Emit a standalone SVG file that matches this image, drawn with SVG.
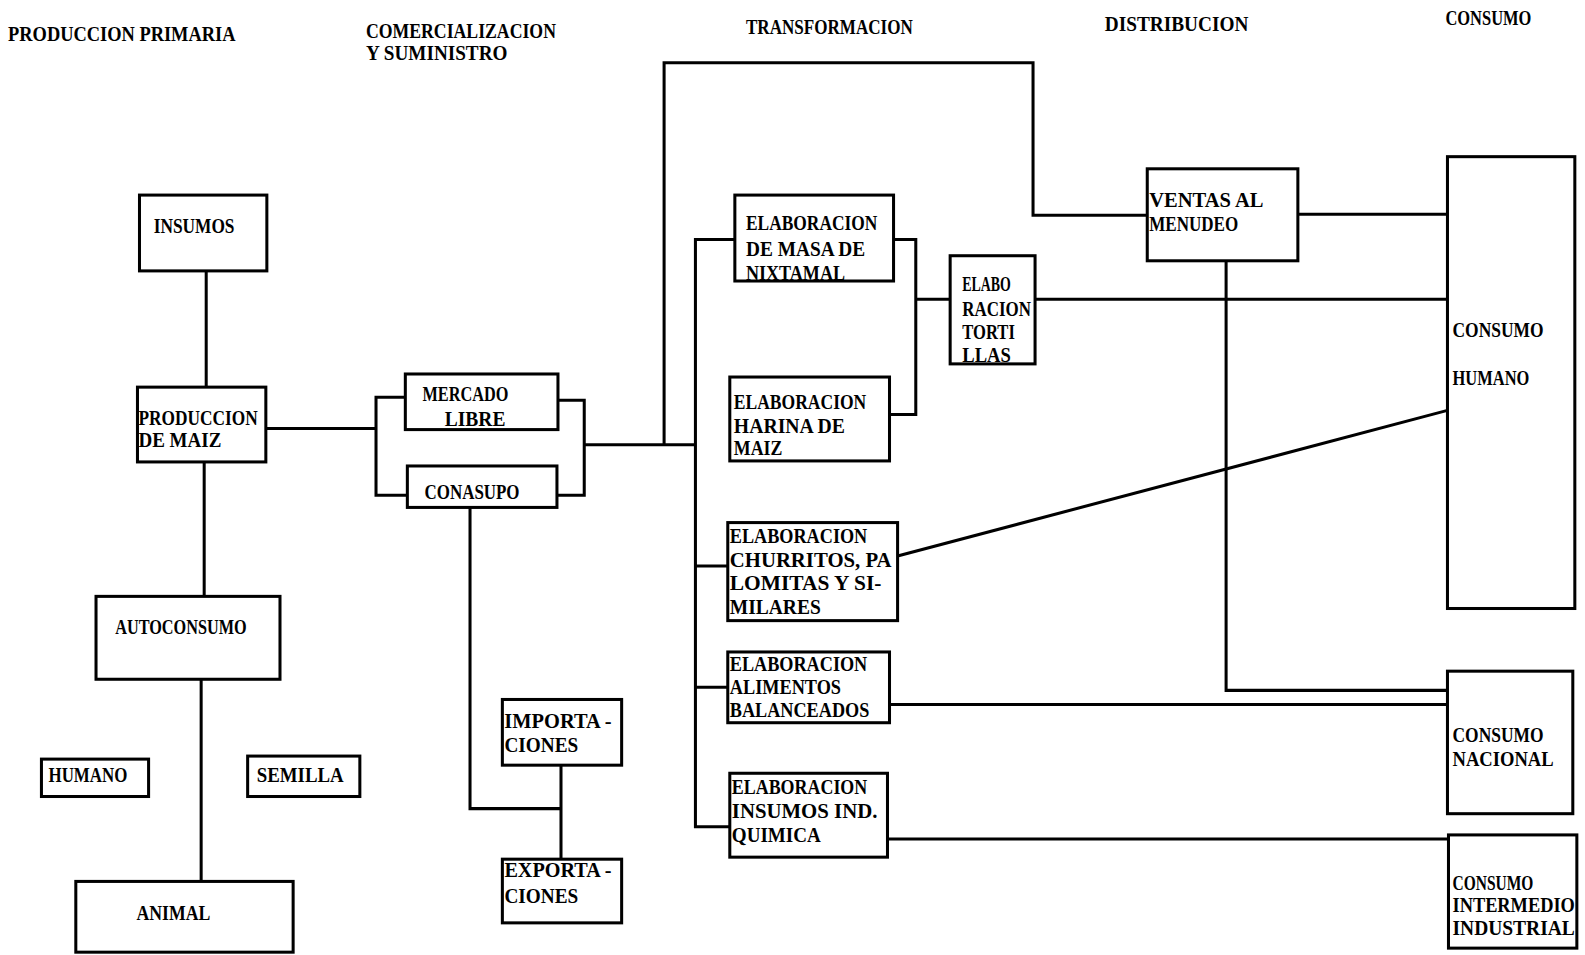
<svg xmlns="http://www.w3.org/2000/svg" width="1585" height="955" viewBox="0 0 1585 955">
<style>
.box{fill:#fff;stroke:#000;stroke-width:3}
.ln{fill:none;stroke:#000;stroke-width:3}
text{font-family:"Liberation Serif","DejaVu Serif",serif;font-weight:bold;font-size:20px;fill:#000}
</style>
<rect width="1585" height="955" fill="#fff"/>
<g id="diagram" transform="scale(1.0108)">
<g id="headers">
<text x="8" y="41" textLength="225" lengthAdjust="spacingAndGlyphs">PRODUCCION PRIMARIA</text>
<text x="362" y="38" textLength="188" lengthAdjust="spacingAndGlyphs">COMERCIALIZACION</text>
<text x="362" y="59" textLength="140" lengthAdjust="spacingAndGlyphs">Y SUMINISTRO</text>
<text x="738" y="34" textLength="165" lengthAdjust="spacingAndGlyphs">TRANSFORMACION</text>
<text x="1093" y="31" textLength="142" lengthAdjust="spacingAndGlyphs">DISTRIBUCION</text>
<text x="1430" y="25" textLength="85" lengthAdjust="spacingAndGlyphs">CONSUMO</text>
</g>
<g id="connectors">
<path class="ln" d="M204 268V383"/>
<path class="ln" d="M202 457V590"/>
<path class="ln" d="M199 672V872"/>
<path class="ln" d="M263 424H372"/>
<path class="ln" d="M401 393H372V490H403"/>
<path class="ln" d="M552 396H578V490H551"/>
<path class="ln" d="M578 440H688"/>
<path class="ln" d="M657 440V62H1022V213H1135"/>
<path class="ln" d="M727 237H688V818H722"/>
<path class="ln" d="M688 560H720"/>
<path class="ln" d="M688 680H720"/>
<path class="ln" d="M884 237H906V410H880"/>
<path class="ln" d="M906 296H940"/>
<path class="ln" d="M1024 296H1432"/>
<path class="ln" d="M1284 212H1432"/>
<path class="ln" d="M1213 258V683H1432"/>
<path class="ln" d="M888 550L1432 406"/>
<path class="ln" d="M880 697H1432"/>
<path class="ln" d="M878 830H1433"/>
<path class="ln" d="M465 502V800H555"/>
<path class="ln" d="M555 757V850"/>
</g>
<g id="insumos"><rect class="box" x="138" y="193" width="126" height="75"/><text x="152" y="231" textLength="80" lengthAdjust="spacingAndGlyphs">INSUMOS</text></g>
<g id="produccion"><rect class="box" x="136" y="383" width="127" height="74"/><text x="137" y="420" textLength="118" lengthAdjust="spacingAndGlyphs">PRODUCCION</text><text x="137" y="442" textLength="82" lengthAdjust="spacingAndGlyphs">DE MAIZ</text></g>
<g id="autoconsumo"><rect class="box" x="95" y="590" width="182" height="82"/><text x="114" y="627" textLength="130" lengthAdjust="spacingAndGlyphs">AUTOCONSUMO</text></g>
<g id="humano"><rect class="box" x="41" y="751" width="106" height="37"/><text x="48" y="774" textLength="78" lengthAdjust="spacingAndGlyphs">HUMANO</text></g>
<g id="semilla"><rect class="box" x="245" y="748" width="111" height="40"/><text x="254" y="774" textLength="86" lengthAdjust="spacingAndGlyphs">SEMILLA</text></g>
<g id="animal"><rect class="box" x="75" y="872" width="215" height="70"/><text x="135" y="910" textLength="73" lengthAdjust="spacingAndGlyphs">ANIMAL</text></g>
<g id="mercado"><rect class="box" x="401" y="370" width="151" height="55"/><text x="418" y="397" textLength="85" lengthAdjust="spacingAndGlyphs">MERCADO</text><text x="440" y="421" textLength="60" lengthAdjust="spacingAndGlyphs">LIBRE</text></g>
<g id="conasupo"><rect class="box" x="403" y="461" width="148" height="41"/><text x="420" y="494" textLength="94" lengthAdjust="spacingAndGlyphs">CONASUPO</text></g>
<g id="importaciones"><rect class="box" x="497" y="692" width="118" height="65"/><text x="499" y="720" textLength="106" lengthAdjust="spacingAndGlyphs">IMPORTA -</text><text x="499" y="744" textLength="73" lengthAdjust="spacingAndGlyphs">CIONES</text></g>
<g id="exportaciones"><rect class="box" x="497" y="850" width="118" height="63"/><text x="499" y="868" textLength="106" lengthAdjust="spacingAndGlyphs">EXPORTA -</text><text x="499" y="893" textLength="73" lengthAdjust="spacingAndGlyphs">CIONES</text></g>
<g id="masa"><rect class="box" x="727" y="193" width="157" height="85"/><text x="738" y="228" textLength="130" lengthAdjust="spacingAndGlyphs">ELABORACION</text><text x="738" y="253" textLength="118" lengthAdjust="spacingAndGlyphs">DE MASA DE</text><text x="738" y="277" textLength="98" lengthAdjust="spacingAndGlyphs">NIXTAMAL</text></g>
<g id="harina"><rect class="box" x="722" y="373" width="158" height="83"/><text x="726" y="405" textLength="131" lengthAdjust="spacingAndGlyphs">ELABORACION</text><text x="726" y="428" textLength="110" lengthAdjust="spacingAndGlyphs">HARINA DE</text><text x="726" y="450" textLength="48" lengthAdjust="spacingAndGlyphs">MAIZ</text></g>
<g id="tortillas"><rect class="box" x="940" y="253" width="84" height="107"/><text x="952" y="288" textLength="48" lengthAdjust="spacingAndGlyphs">ELABO</text><text x="952" y="313" textLength="68" lengthAdjust="spacingAndGlyphs">RACION</text><text x="952" y="335" textLength="52" lengthAdjust="spacingAndGlyphs">TORTI</text><text x="952" y="358" textLength="48" lengthAdjust="spacingAndGlyphs">LLAS</text></g>
<g id="churritos"><rect class="box" x="720" y="517" width="168" height="97"/><text x="722" y="537" textLength="136" lengthAdjust="spacingAndGlyphs">ELABORACION</text><text x="722" y="561" textLength="160" lengthAdjust="spacingAndGlyphs">CHURRITOS, PA</text><text x="722" y="584" textLength="150" lengthAdjust="spacingAndGlyphs">LOMITAS Y SI-</text><text x="722" y="607" textLength="90" lengthAdjust="spacingAndGlyphs">MILARES</text></g>
<g id="alimentos"><rect class="box" x="720" y="645" width="160" height="70"/><text x="722" y="664" textLength="136" lengthAdjust="spacingAndGlyphs">ELABORACION</text><text x="722" y="687" textLength="110" lengthAdjust="spacingAndGlyphs">ALIMENTOS</text><text x="722" y="709" textLength="138" lengthAdjust="spacingAndGlyphs">BALANCEADOS</text></g>
<g id="insumosind"><rect class="box" x="722" y="765" width="156" height="83"/><text x="724" y="786" textLength="134" lengthAdjust="spacingAndGlyphs">ELABORACION</text><text x="724" y="809" textLength="144" lengthAdjust="spacingAndGlyphs">INSUMOS IND.</text><text x="724" y="833" textLength="88" lengthAdjust="spacingAndGlyphs">QUIMICA</text></g>
<g id="ventas"><rect class="box" x="1135" y="167" width="149" height="91"/><text x="1137" y="205" textLength="113" lengthAdjust="spacingAndGlyphs">VENTAS AL</text><text x="1137" y="229" textLength="88" lengthAdjust="spacingAndGlyphs">MENUDEO</text></g>
<g id="consumohumano"><rect class="box" x="1432" y="155" width="126" height="447"/><text x="1437" y="333" textLength="90" lengthAdjust="spacingAndGlyphs">CONSUMO</text><text x="1437" y="381" textLength="76" lengthAdjust="spacingAndGlyphs">HUMANO</text></g>
<g id="consumonacional"><rect class="box" x="1432" y="664" width="124" height="141"/><text x="1437" y="734" textLength="90" lengthAdjust="spacingAndGlyphs">CONSUMO</text><text x="1437" y="758" textLength="100" lengthAdjust="spacingAndGlyphs">NACIONAL</text></g>
<g id="consumointermedio"><rect class="box" x="1433" y="826" width="127" height="112"/><text x="1437" y="880" textLength="80" lengthAdjust="spacingAndGlyphs">CONSUMO</text><text x="1437" y="902" textLength="121" lengthAdjust="spacingAndGlyphs">INTERMEDIO</text><text x="1437" y="925" textLength="121" lengthAdjust="spacingAndGlyphs">INDUSTRIAL</text></g>
</g>
</svg>
